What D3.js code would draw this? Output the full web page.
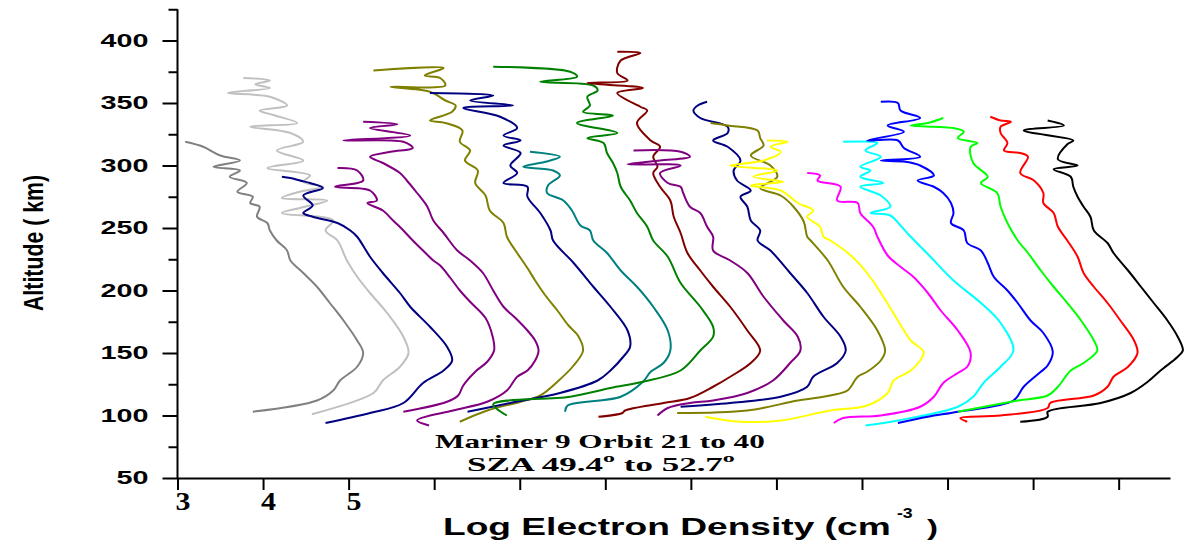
<!DOCTYPE html>
<html>
<head>
<meta charset="utf-8">
<script src="https://cdn.jsdelivr.net/npm/d3@7"></script>
<style>
body { margin: 0; background: #fff; }
.axis path, .axis line { stroke: #000; stroke-width: 2; }
</style>
</head>
<body>
<svg width="1195" height="547"></svg>
<script>
// profile colours, left to right (orbits 21..40)
var colors = ["#808080", "#c0c0c0", "#000080", "#800080", "#800080",
              "#808000", "#000080", "#008080", "#008000", "#800000",
              "#800080", "#000080", "#808000", "#ffff00", "#ff00ff",
              "#00ffff", "#0000ff", "#00ff00", "#ff0000", "#000000"];

// [log electron density (offset), altitude km]
var p01 = [[3.88,103],[4.63,112],[4.82,120],[4.90,128],[5.10,139],[5.17,150],[5.10,160],[4.94,176],[4.78,190],[4.63,203],[4.47,214],[4.32,224],[4.28,232],[4.16,240],[4.08,248],[4.05,254],[3.93,259],[3.96,267],[3.85,270],[3.88,275],[3.70,279],[3.81,286],[3.61,291],[3.73,296],[3.42,299],[3.73,304],[3.50,308],[3.30,315],[3.09,319]];
var p02 = [[4.57,101],[5.29,118],[5.40,128],[5.60,139],[5.70,150],[5.64,163],[5.45,182],[5.25,198],[5.10,211],[4.98,224],[4.87,240],[4.73,248],[4.82,256],[4.22,262],[4.43,266],[4.75,272],[4.22,274],[4.43,279],[4.70,283],[4.47,287],[4.55,292],[4.05,298],[4.47,304],[4.16,312],[4.47,319],[4.32,326],[3.85,331],[4.40,334],[4.14,340],[3.96,344],[4.28,348],[4.08,355],[3.59,358],[4.08,362],[3.91,365],[4.08,368],[3.77,370]];
var p03 = [[4.73,94],[5.25,102],[5.64,110],[5.87,126],[6.11,136],[6.21,144],[6.15,155],[5.95,171],[5.72,187],[5.60,198],[5.40,214],[5.25,227],[5.10,243],[5.02,248],[4.87,254],[4.58,259],[4.47,262],[4.58,268],[4.47,276],[4.70,282],[4.55,286],[4.43,288],[4.32,290],[4.22,291]];
var p04 = [[5.64,103],[6.15,111],[6.28,116],[6.34,124],[6.48,135],[6.62,143],[6.70,152],[6.68,164],[6.60,178],[6.42,191],[6.30,200],[6.19,210],[6.07,220],[5.99,224],[5.87,232],[5.75,240],[5.64,248],[5.52,256],[5.40,264],[5.22,270],[5.33,272],[5.25,280],[4.84,283],[5.17,288],[5.10,296],[4.87,298]];
var p05 = [[5.94,92],[5.80,96],[6.22,104],[6.62,111],[6.85,120],[6.97,131],[7.09,136],[7.18,144],[7.22,152],[7.18,160],[7.09,168],[6.95,178],[6.81,187],[6.69,200],[6.57,214],[6.42,224],[6.27,232],[6.11,246],[5.99,256],[5.92,267],[5.80,278],[5.68,288],[5.60,294],[5.40,302],[5.25,307],[5.49,311],[5.75,314],[5.64,319],[4.94,320],[5.72,324],[5.25,330],[5.57,333],[5.17,335]];
var p06 = [[6.30,95],[6.62,104],[7.01,111],[7.24,116],[7.44,127],[7.63,140],[7.74,152],[7.68,164],[7.57,172],[7.44,184],[7.30,196],[7.18,208],[7.09,218],[6.95,232],[6.85,243],[6.81,254],[6.65,264],[6.60,276],[6.48,286],[6.51,296],[6.36,304],[6.42,312],[6.30,319],[6.33,328],[6.13,334],[5.95,336],[6.21,343],[6.25,348],[6.13,352],[5.95,359],[5.49,363],[6.13,364],[6.07,370],[5.89,372],[6.11,378],[5.29,376]];
var p07 = [[6.39,103],[6.89,110],[7.47,118],[7.91,128],[8.06,136],[8.21,147],[8.29,155],[8.26,168],[8.06,187],[7.86,203],[7.63,222],[7.39,240],[7.36,248],[7.24,262],[7.09,275],[7.09,283],[6.81,286],[6.97,294],[6.89,300],[7.01,310],[6.81,316],[7.01,320],[6.81,324],[6.97,330],[6.77,339],[6.34,346],[6.92,348],[6.42,352],[6.69,356],[5.95,358]];
var p08 = [[7.53,103],[7.56,108],[8.18,115],[8.44,127],[8.53,135],[8.68,142],[8.76,152],[8.73,168],[8.56,187],[8.37,203],[8.18,216],[8.02,230],[7.86,240],[7.82,248],[7.71,252],[7.61,264],[7.51,272],[7.32,278],[7.33,284],[7.47,292],[7.39,296],[7.04,299],[7.30,303],[7.47,307],[7.12,311]];
var p09 = [[6.85,100],[6.69,109],[7.59,115],[8.06,122],[8.44,127],[8.88,136],[9.11,152],[9.26,163],[9.26,171],[9.11,187],[8.88,206],[8.73,227],[8.56,240],[8.49,251],[8.37,262],[8.29,272],[8.18,283],[8.14,294],[8.09,302],[8.02,310],[7.98,318],[7.79,322],[8.14,326],[7.67,334],[8.09,340],[7.74,343],[7.82,348],[7.79,355],[7.91,360],[7.86,364],[7.24,367],[7.67,371],[7.59,375],[6.69,379]];
var p10 = [[7.92,99],[8.20,102],[8.23,104],[8.68,110],[8.99,114],[9.26,123],[9.46,131],[9.70,142],[9.81,152],[9.66,168],[9.46,187],[9.26,203],[9.11,216],[8.96,230],[8.88,246],[8.80,259],[8.76,272],[8.64,283],[8.56,294],[8.61,299],[8.56,307],[8.64,315],[8.53,320],[8.37,334],[8.49,344],[8.41,347],[8.14,358],[8.44,362],[7.79,366],[8.26,368],[8.14,374],[8.18,384],[8.41,390],[8.14,391]];
var p11 = [[8.61,100],[8.73,106],[8.99,110],[9.26,112],[9.66,118],[9.96,128],[10.16,142],[10.28,152],[10.25,163],[10.08,176],[9.85,195],[9.66,214],[9.46,224],[9.26,232],[9.26,243],[9.19,251],[9.11,262],[8.99,267],[8.91,278],[8.88,283],[8.73,286],[8.64,294],[8.88,300],[8.26,301],[8.64,304],[8.99,307],[8.88,311],[8.33,312]];
var p12 = [[8.88,107],[9.46,110],[10.05,115],[10.36,123],[10.43,131],[10.71,142],[10.81,152],[10.75,163],[10.55,179],[10.36,198],[10.16,214],[9.93,232],[9.78,240],[9.81,248],[9.70,256],[9.66,267],[9.58,275],[9.70,280],[9.54,288],[9.50,296],[9.58,304],[9.43,315],[9.26,320],[9.43,326],[9.43,331],[9.11,338],[9.03,344],[9.08,348],[9.19,351]];
var p13 = [[8.84,102],[9.66,104],[10.25,112],[10.63,116],[10.83,120],[10.95,131],[11.06,135],[11.22,144],[11.27,152],[11.18,168],[10.98,187],[10.78,203],[10.60,224],[10.40,240],[10.36,243],[10.32,255],[10.20,267],[10.05,276],[9.81,282],[10.01,291],[9.93,300],[9.70,308],[9.85,316],[9.81,322],[9.78,328],[9.43,332],[9.23,334]];
var p14 = [[9.17,99],[9.58,95],[10.05,96],[10.63,104],[11.06,108],[11.30,118],[11.37,128],[11.57,136],[11.68,144],[11.72,151],[11.57,160],[11.42,176],[11.25,195],[11.06,214],[10.87,228],[10.63,240],[10.55,243],[10.51,251],[10.36,259],[10.43,264],[10.25,270],[10.05,280],[9.70,284],[10.08,287],[9.73,291],[10.01,296],[9.46,300],[9.85,304],[10.05,311],[9.93,315],[10.13,319],[9.89,320]];
var p15 = [[10.67,94],[10.78,98],[11.22,100],[11.68,107],[11.84,115],[11.95,126],[12.12,134],[12.23,139],[12.27,150],[12.12,168],[11.92,184],[11.77,198],[11.60,211],[11.45,219],[11.30,228],[11.18,243],[11.13,251],[10.98,262],[10.95,270],[10.71,272],[10.75,283],[10.48,288],[10.51,292],[10.36,294]];
var p16 = [[11.04,92],[11.42,96],[12.12,107],[12.30,115],[12.42,126],[12.62,139],[12.77,152],[12.62,174],[12.39,190],[12.07,208],[11.80,227],[11.57,243],[11.45,252],[11.33,260],[11.10,262],[11.33,267],[11.22,276],[10.98,283],[11.25,286],[10.98,291],[11.10,296],[10.98,299],[11.22,307],[11.04,312],[11.18,318],[10.78,319]];
var p17 = [[11.42,94],[11.77,99],[12.12,103],[12.77,112],[12.89,123],[13.09,135],[13.17,140],[13.23,151],[13.12,166],[12.97,176],[12.82,190],[12.70,200],[12.54,211],[12.47,222],[12.39,232],[12.23,238],[12.19,248],[12.04,254],[12.07,262],[12.04,270],[11.95,278],[11.84,283],[11.65,288],[11.84,292],[11.68,300],[11.51,303],[11.22,304],[11.68,307],[11.49,314],[11.42,320],[11.06,320],[11.49,327],[11.30,332],[11.68,338],[11.45,344],[11.42,350],[11.22,351]];
var p18 = [[12.12,103],[12.82,112],[13.17,116],[13.29,123],[13.44,136],[13.59,142],[13.75,152],[13.71,160],[13.56,176],[13.40,190],[13.24,203],[13.09,216],[12.94,230],[12.82,240],[12.70,254],[12.62,267],[12.58,278],[12.39,286],[12.47,291],[12.30,302],[12.27,315],[12.35,318],[12.12,322],[12.19,327],[12.07,330],[11.57,332],[11.77,334],[11.95,338]];
var p19 = [[12.23,95],[12.15,98],[12.62,100],[13.17,106],[13.20,110],[13.71,116],[13.87,123],[13.94,131],[14.11,139],[14.22,150],[14.18,160],[14.02,176],[13.87,190],[13.71,203],[13.59,214],[13.52,227],[13.40,240],[13.29,251],[13.24,262],[13.12,270],[13.12,278],[13.01,288],[12.85,294],[12.94,307],[12.85,310],[12.66,312],[12.70,318],[12.62,326],[12.62,331],[12.74,335],[12.62,336],[12.50,339]];
var p20 = [[12.85,95],[13.17,99],[13.17,103],[13.79,110],[14.14,118],[14.34,127],[14.49,136],[14.69,147],[14.75,152],[14.69,163],[14.57,176],[14.41,190],[14.26,203],[14.11,216],[13.94,230],[13.87,238],[13.71,248],[13.67,259],[13.59,267],[13.52,275],[13.47,283],[13.44,291],[13.24,297],[13.52,300],[13.29,305],[13.40,317],[13.47,320],[12.89,328],[13.36,332],[13.17,336]];

var profiles = [p01, p02, p03, p04, p05, p06, p07, p08, p09, p10,
                p11, p12, p13, p14, p15, p16, p17, p18, p19, p20];

var yMajor = [50, 100, 150, 200, 250, 300, 350, 400];
var yMinor = [75, 125, 175, 225, 275, 325, 375, 425];
var xTicks = [3, 4, 5, 6, 7, 8, 9, 10, 11, 12, 13, 14];
var xLabelled = [3, 4, 5];

var svg = d3.select("svg");

var x = d3.scaleLinear().domain([3, 14.6]).range([177.5, 1170]);
var y = d3.scaleLinear().domain([50, 425]).range([478, 9.25]);

// stretch a text horizontally around its start so it spans w pixels
function fit(t, w) {
  var b = t.node().getBBox();
  var k = w / b.width;
  t.attr("transform", "translate(" + b.x + ",0) scale(" + k + ",1) translate(" + (-b.x) + ",0)");
}

var line = d3.line()
    .x(function(d) { return x(d[0]); })
    .y(function(d) { return y(d[1]); })
    .curve(d3.curveCatmullRom.alpha(0.5));

svg.append("g")
  .selectAll("path")
  .data(profiles)
  .enter().append("path")
    .attr("d", line)
    .attr("fill", "none")
    .attr("stroke", function(d, i) { return colors[i]; })
    .attr("stroke-width", 2)
    .attr("stroke-linejoin", "round");

// y axis
var gy = svg.append("g")
    .attr("class", "axis")
    .attr("transform", "translate(177.5,0)")
    .call(d3.axisLeft(y).tickValues(yMajor).tickSize(15).tickSizeOuter(0).tickPadding(14));
gy.selectAll("text")
    .attr("font-family", "Arial, 'Liberation Sans', sans-serif")
    .attr("font-weight", "bold")
    .attr("font-size", 18)
    .attr("fill", "#000")
    .attr("lengthAdjust", "spacingAndGlyphs")
    .attr("textLength", function(d) { return String(d).length * 16; });
gy.select(".domain").attr("d", "M0," + y(50) + "V" + y(425));
svg.append("g")
    .attr("class", "axis")
    .attr("transform", "translate(177.5,0)")
    .call(d3.axisLeft(y).tickValues(yMinor).tickSize(9).tickSizeOuter(0).tickFormat(""))
    .select(".domain").remove();

// x axis
var gx = svg.append("g")
    .attr("class", "axis")
    .attr("transform", "translate(0," + y(50) + ")")
    .call(d3.axisBottom(x).tickValues(xTicks).tickSize(12).tickSizeOuter(0).tickPadding(2)
      .tickFormat(function(d) { return xLabelled.indexOf(d) >= 0 ? d : ""; }));
gx.selectAll("text")
    .attr("dx", 5)
    .attr("font-family", "'Times New Roman', 'Liberation Serif', serif")
    .attr("font-weight", "bold")
    .attr("font-size", 25)
    .attr("fill", "#000")
    .attr("lengthAdjust", "spacingAndGlyphs")
    .attr("textLength", function(d) { return xLabelled.indexOf(d) >= 0 ? 15 : null; });

// axis titles
svg.append("text")
    .attr("transform", "translate(43,243) rotate(-90)")
    .attr("text-anchor", "middle")
    .attr("font-family", "Arial, 'Liberation Sans', sans-serif")
    .attr("font-weight", "bold")
    .attr("font-size", 27)
    .attr("lengthAdjust", "spacingAndGlyphs")
    .attr("textLength", 136)
    .text("Altitude ( km)");

var sans = "Arial, 'Liberation Sans', sans-serif";
var t1 = svg.append("text").attr("x", 443).attr("y", 535)
    .attr("font-family", sans).attr("font-weight", "bold").attr("font-size", 23)
    .text("Log Electron Density (cm");
fit(t1, 448);
var t2 = svg.append("text").attr("x", 897).attr("y", 518)
    .attr("font-family", sans).attr("font-weight", "bold").attr("font-size", 14)
    .text("-3");
fit(t2, 16);
var t3 = svg.append("text").attr("x", 927).attr("y", 535)
    .attr("font-family", sans).attr("font-weight", "bold").attr("font-size", 23)
    .text(")");
fit(t3, 11);

// annotation
var serif = "'Times New Roman', 'Liberation Serif', serif";
var a1 = svg.append("text").attr("x", 435).attr("y", 448)
    .attr("font-family", serif).attr("font-weight", "bold").attr("font-size", 19)
    .text("Mariner 9 Orbit 21 to 40");
fit(a1, 330);
var a2 = svg.append("text").attr("x", 467).attr("y", 471)
    .attr("font-family", serif).attr("font-weight", "bold").attr("font-size", 19);
a2.append("tspan").text("SZA 49.4");
a2.append("tspan").attr("dy", -9).attr("font-size", 13).text("o");
a2.append("tspan").attr("dy", 9).text("  to 52.7");
a2.append("tspan").attr("dy", -9).attr("font-size", 13).text("o");
fit(a2, 268);
</script>
</body>
</html>
